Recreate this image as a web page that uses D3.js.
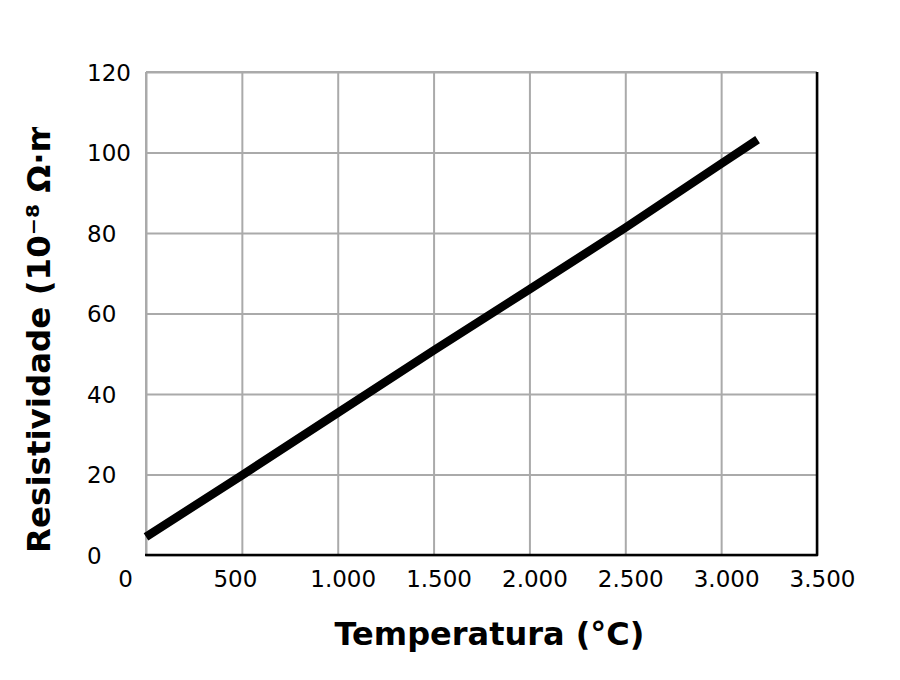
<!DOCTYPE html>
<html>
<head>
<meta charset="utf-8">
<script src="https://cdn.jsdelivr.net/npm/d3@7"></script>
<style>
  body { margin: 0; background: #fff; }
  svg { display: block; font-family: "DejaVu Sans", sans-serif; }
</style>
</head>
<body>
<div id="chart"></div>
<script>
const w = 900;
const h = 680;

// Temperature (°C) and resistivity (10^-8 ohm·m)
const temperatures = [0, 500, 1000, 1500, 2000, 2500, 3000, 3190];
const resistivity = [4.5, 19.8, 35.3, 50.8, 66.0, 81.3, 97.2, 103.2];

const xTicks = [0, 500, 1000, 1500, 2000, 2500, 3000, 3500];
const yTicks = [0, 20, 40, 60, 80, 100, 120];

const xTitle = "Temperatura (°C)";
const yTitle = "Resistividade (10⁻⁸ Ω·m)";

const plotLeft = 146;
const plotRight = 817;
const plotTop = 72;
const plotBottom = 555;

const svg = d3.select("#chart").append("svg").attr("width", w).attr("height", h);

const xScale = d3.scaleLinear().domain([0, 3500]).range([plotLeft, plotRight]);
const yScale = d3.scaleLinear().domain([0, 120]).range([plotBottom, plotTop]);

const ptFormat = d3.formatLocale({ decimal: ",", thousands: ".", grouping: [3], currency: ["", ""] }).format(",");

//Grid lines
svg
  .append("g")
  .attr("class", "grid")
  .attr("transform", `translate(0, ${plotBottom})`)
  .call(d3.axisBottom(xScale).tickValues(xTicks).tickSize(-(plotBottom - plotTop)).tickFormat(""))
  .call((g) => g.select(".domain").remove())
  .call((g) => g.selectAll("line").attr("stroke", "#aaaaaa").attr("stroke-width", 2));

svg
  .append("g")
  .attr("class", "grid")
  .attr("transform", `translate(${plotLeft}, 0)`)
  .call(d3.axisLeft(yScale).tickValues(yTicks).tickSize(-(plotRight - plotLeft)).tickFormat(""))
  .call((g) => g.select(".domain").remove())
  .call((g) => g.selectAll("line").attr("stroke", "#aaaaaa").attr("stroke-width", 2));

//Plot frame: grey top/left, black right/bottom
svg.append("line").attr("x1", plotLeft).attr("x2", plotRight).attr("y1", plotTop).attr("y2", plotTop)
  .attr("stroke", "#aaaaaa").attr("stroke-width", 2);
svg.append("line").attr("x1", plotLeft).attr("x2", plotLeft).attr("y1", plotTop).attr("y2", plotBottom)
  .attr("stroke", "#aaaaaa").attr("stroke-width", 2);
svg.append("line").attr("x1", plotRight).attr("x2", plotRight).attr("y1", plotTop).attr("y2", plotBottom + 1)
  .attr("stroke", "#000").attr("stroke-width", 2.5);
svg.append("line").attr("x1", plotLeft - 1).attr("x2", plotRight + 1).attr("y1", plotBottom).attr("y2", plotBottom)
  .attr("stroke", "#000").attr("stroke-width", 2.5);

//Tick labels
const xLabelNudge = { 0: -21, 500: -7 };
const xAxis = svg
  .append("g")
  .attr("id", "x-axis")
  .attr("transform", `translate(0, ${plotBottom})`)
  .call(d3.axisBottom(xScale).tickValues(xTicks).tickSize(0).tickPadding(16).tickFormat(ptFormat));
xAxis.select(".domain").remove();
xAxis
  .selectAll("text")
  .attr("font-size", 23)
  .attr("font-family", "DejaVu Sans")
  .attr("fill", "#000")
  .attr("dx", (d) => (d in xLabelNudge ? xLabelNudge[d] : 5));

const yAxis = svg
  .append("g")
  .attr("id", "y-axis")
  .attr("transform", `translate(${plotLeft}, 0)`)
  .call(d3.axisLeft(yScale).tickValues(yTicks).tickSize(0).tickFormat(d3.format("d")));
yAxis.select(".domain").remove();
yAxis
  .selectAll("text")
  .attr("font-size", 23)
  .attr("font-family", "DejaVu Sans")
  .attr("fill", "#000")
  .attr("text-anchor", "start")
  .attr("x", 87 - plotLeft)
  .attr("dy", "0.36em");

//Data line
const line = d3
  .line()
  .x((d, i) => xScale(temperatures[i]))
  .y((d) => yScale(d));

svg
  .append("path")
  .datum(resistivity)
  .attr("d", line)
  .attr("fill", "none")
  .attr("stroke", "#000")
  .attr("stroke-width", 8.5)
  .attr("stroke-linecap", "butt");

//Axis titles
svg
  .append("text")
  .attr("x", (plotLeft + plotRight) / 2 + 8)
  .attr("y", 645)
  .attr("text-anchor", "middle")
  .attr("font-size", 32)
  .attr("font-weight", "bold")
  .text(xTitle);

//The y title runs off the top of the picture, so it gets cut
svg
  .append("clipPath")
  .attr("id", "ytitle-clip")
  .append("rect")
  .attr("x", 0)
  .attr("y", 127)
  .attr("width", 80)
  .attr("height", 500);

svg
  .append("g")
  .attr("clip-path", "url(#ytitle-clip)")
  .append("text")
  .attr("transform", "translate(50, 553) rotate(-90)")
  .attr("text-anchor", "start")
  .attr("font-size", 32.5)
  .attr("font-weight", "bold")
  .text(yTitle);
</script>
</body>
</html>
